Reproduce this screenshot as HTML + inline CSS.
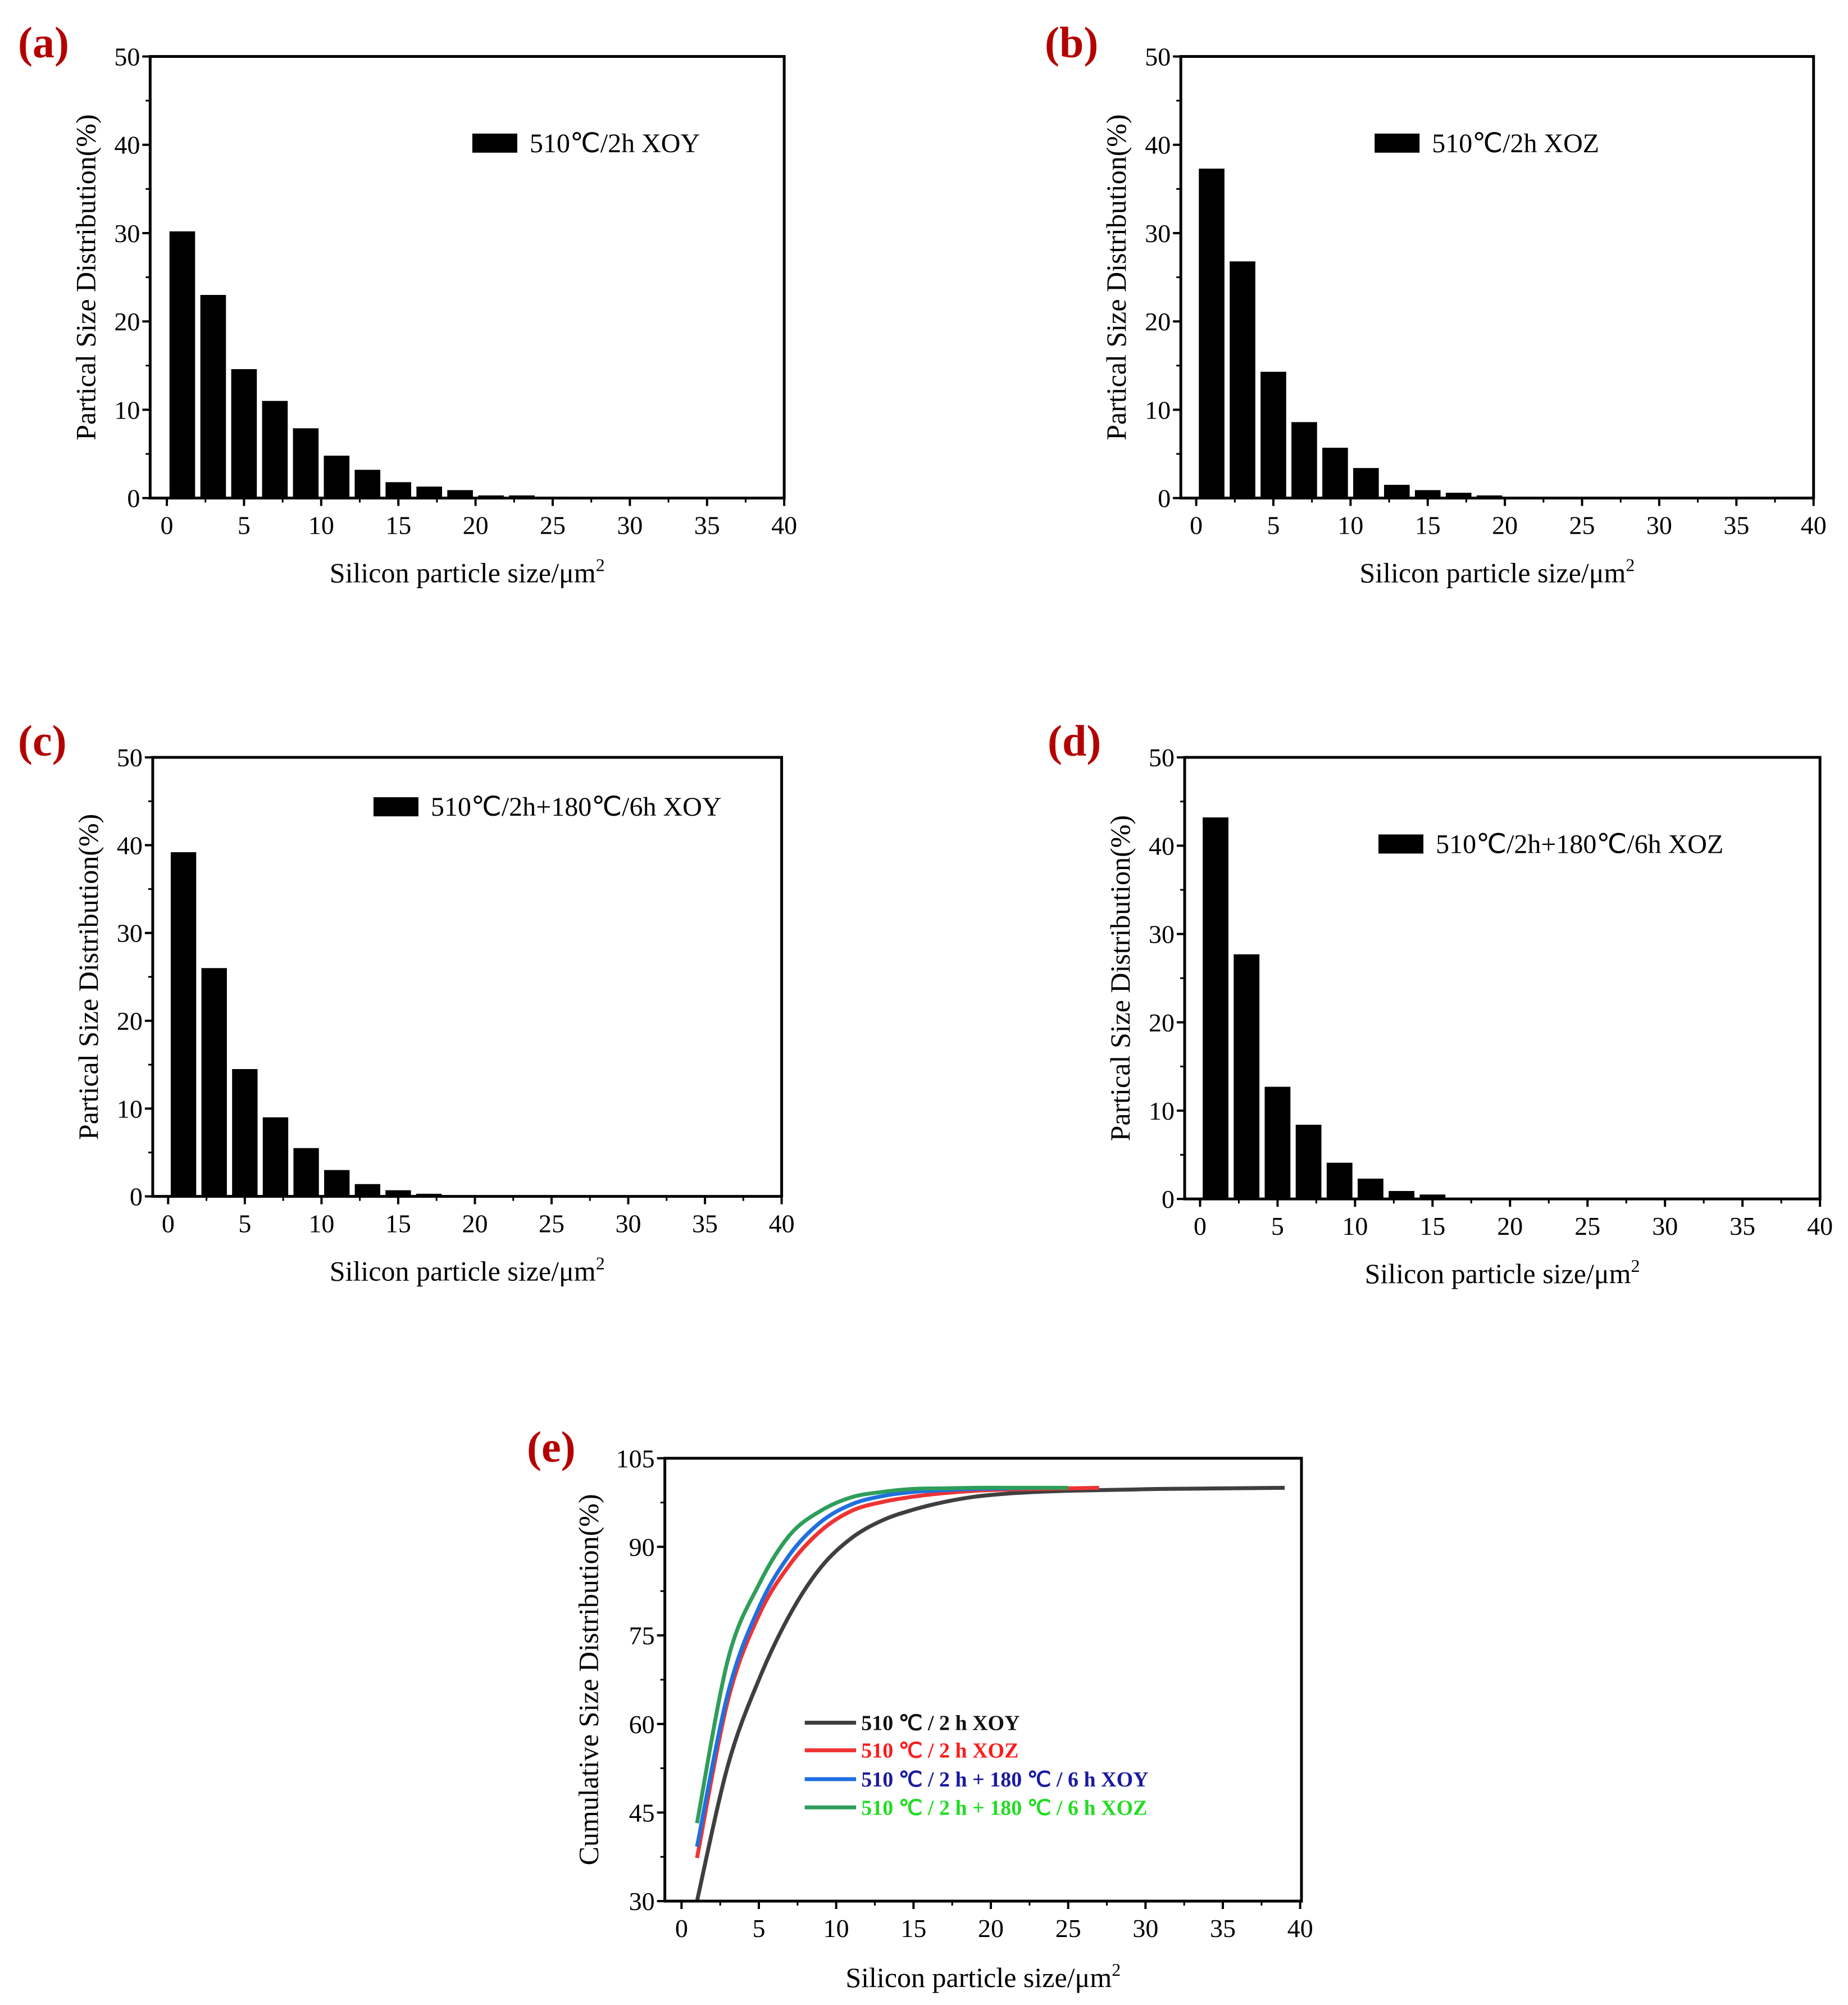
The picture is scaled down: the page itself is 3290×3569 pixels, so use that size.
<!DOCTYPE html>
<html><head><meta charset="utf-8"><style>
html,body{margin:0;padding:0;background:#fff;}
svg{display:block;font-family:"Liberation Serif",serif;}
</style></head><body>
<svg id="fig" width="3290" height="3569" viewBox="0 0 3290 3569" xmlns="http://www.w3.org/2000/svg"></svg>
<script>
// ---- data ----
const binCenters=[1,3,5,7,9,11,13,15,17,19,21,23,25,27,29,31,33,35,37,39];
const barsA=[30.2,23,14.6,11,7.9,4.8,3.2,1.8,1.3,0.9,0.3,0.3,0.15,0.1,0.05,0.03,0.02,0.02,0.01,0.01];
const barsB=[37.3,26.8,14.3,8.6,5.7,3.4,1.5,0.9,0.6,0.3,0.1,0.05,0.03,0.02,0.01,0.01,0,0,0,0];
const barsC=[39.2,26,14.5,9,5.5,3,1.4,0.7,0.3,0.1,0.05,0.03,0.02,0.01,0,0,0,0,0,0];
const barsD=[43.2,27.7,12.7,8.4,4.1,2.3,0.9,0.5,0.05,0.02,0.01,0,0,0,0,0,0,0,0,0];
const xTicks=[0,5,10,15,20,25,30,35,40];
const yTicksBar=[0,10,20,30,40,50];
const yTicksCum=[30,45,60,75,90,105];
const cumX1=[1,3,5,7,9,11,13,15,17,19,21,23,25,27,29,31,35,39];
const cumY1=[30,53,67.5,78.5,86.5,91.5,94.5,96.3,97.6,98.5,99,99.3,99.5,99.6,99.7,99.8,99.9,100];
const cumX2=[1,3,5,7,9,11,13,15,17,19,21,23,25,27];
const cumY2=[37.3,64,78.4,87,92.7,96.1,97.6,98.5,99.1,99.5,99.7,99.8,99.9,100];
const cumX3=[1,3,5,7,9,11,13,15,17,19,21,23];
const cumY3=[39.2,65.2,79.7,88.7,94.2,97.2,98.6,99.3,99.6,99.8,99.9,100];
const cumX4=[1,3,5,7,9,11,13,15,17,19,21,23,25];
const cumY4=[43.2,70.9,83.6,92,96.1,98.4,99.3,99.8,99.9,100,100,100,100];

const NS="http://www.w3.org/2000/svg";
const svg=document.getElementById('fig');
function mk(tag,attrs,parent,text){const e=document.createElementNS(NS,tag);for(const k in attrs)e.setAttribute(k,attrs[k]);if(text!==undefined)e.textContent=text;(parent||svg).appendChild(e);return e;}

function drawFrame(g,box,sx,sy,yt,yMinorStep,xlab,ylab,xlabY,ylabX){
  const f=mk('rect',{x:box.L,y:box.y0,width:box.R-box.L,height:box.y1-box.y0,fill:'none',stroke:'#000','stroke-width':5},g);
  
  xTicks.forEach(t=>{const x=sx(t);
    mk('line',{x1:x,y1:box.y1,x2:x,y2:box.y1+14,stroke:'#000','stroke-width':4},g);
    const tl=mk('text',{x:x,y:box.y1+64,'font-size':46,'text-anchor':'middle'},g,String(t));
    
  });
  for(let t=2.5;t<40;t+=5){const x=sx(t);mk('line',{x1:x,y1:box.y1,x2:x,y2:box.y1+8,stroke:'#000','stroke-width':3},g);}
  yt.forEach((t,i)=>{const y=sy(t);
    mk('line',{x1:box.L,y1:y,x2:box.L-14,y2:y,stroke:'#000','stroke-width':4},g);
    const tl=mk('text',{x:box.L-18,y:y+16,'font-size':46,'text-anchor':'end'},g,String(t));
    
    if(i<yt.length-1){const ym=sy(t+yMinorStep);mk('line',{x1:box.L,y1:ym,x2:box.L-8,y2:ym,stroke:'#000','stroke-width':3},g);}
  });
  const xl=mk('text',{x:(box.L+box.R)/2,y:xlabY,'font-size':50,'text-anchor':'middle'},g);
  
  xl.appendChild(document.createTextNode(xlab));
  mk('tspan',{'font-size':32,dy:-20},xl,'2');
  const yl=mk('text',{x:0,y:0,'font-size':50,'text-anchor':'middle',transform:`translate(${ylabX},${(box.y0+box.y1)/2}) rotate(-90)`},g,ylab);
  
}

function barPanel(name,label,lx,ly,box,bars,legText,legX,legY){
  const g=mk('g',{});
  const sx=v=>box.x0+v/40*(box.x1-box.x0);
  const sy=v=>box.y1-v/50*(box.y1-box.y0);
  const w=1.66;
  bars.forEach((v,i)=>{ if(v<=0) return;
    const r=mk('rect',{x:sx(binCenters[i]-w/2),y:sy(v),width:sx(w)-sx(0),height:Math.max(sy(0)-sy(v),1),fill:'#000'},g);
    
  });
  drawFrame(g,box,sx,sy,yTicksBar,5,'Silicon particle size/μm','Partical Size Distribution(%)',box.y1+150,box.L-98);
  const pl=mk('text',{x:lx,y:ly,'font-size':78,'font-weight':'bold',fill:'#b40000'},g,label);
  
  const lr=mk('rect',{x:legX,y:legY-17,width:80,height:34,fill:'#000'},g);
  
  const lt=mk('text',{x:legX+102,y:legY+16,'font-size':48},g,legText);
  
}
const S=2.285;
barPanel('panel-a','(a)',32,102,{L:117*S,R:611*S,x0:130*S,x1:611*S,y0:44*S,y1:388*S},barsA,'510℃/2h XOY',368*S,111.5*S);
barPanel('panel-b','(b)',1860,102,{L:920*S,R:1413*S,x0:932*S,x1:1413*S,y0:44*S,y1:388*S},barsB,'510℃/2h XOZ',1071*S,111.5*S);
barPanel('panel-c','(c)',32,1345,{L:119*S,R:609*S,x0:131*S,x1:609*S,y0:590*S,y1:932*S},barsC,'510℃/2h+180℃/6h XOY',291*S,628.5*S);
barPanel('panel-d','(d)',1865,1345,{L:923*S,R:1418*S,x0:935*S,x1:1418*S,y0:590*S,y1:934*S},barsD,'510℃/2h+180℃/6h XOZ',1074*S,657.5*S);

// panel e
(function(){
  const g=mk('g',{});
  const box={L:518*S,R:1014*S,x0:531*S,x1:1013*S,y0:1136*S,y1:1481*S};
  const sx=v=>box.x0+v/40*(box.x1-box.x0);
  const sy=v=>box.y1-(v-30)/75*(box.y1-box.y0);
  function path(xs,ys){
    const P=xs.map((x,i)=>[sx(x),sy(ys[i])]);
    let d=`M${P[0][0]},${P[0][1]}`;
    for(let i=0;i<P.length-1;i++){const p0=P[Math.max(i-1,0)],p1=P[i],p2=P[i+1],p3=P[Math.min(i+2,P.length-1)];
      d+=` C${p1[0]+(p2[0]-p0[0])/6},${p1[1]+(p2[1]-p0[1])/6} ${p2[0]-(p3[0]-p1[0])/6},${p2[1]-(p3[1]-p1[1])/6} ${p2[0]},${p2[1]}`;}
    return d;
  }
  const series=[[cumX1,cumY1,'#3f3f3f','curve-xoy'],[cumX2,cumY2,'#ee3333','curve-xoz'],[cumX3,cumY3,'#1f6fe0','curve-aged-xoy'],[cumX4,cumY4,'#2e9e5a','curve-aged-xoz']];
  series.forEach(s=>{const p=mk('path',{d:path(s[0],s[1]),fill:'none',stroke:s[2],'stroke-width':7},g);
    });
  drawFrame(g,box,sx,sy,yTicksCum,7.5,'Silicon particle size/μm','Cumulative Size Distribution(%)',1548*S,458*S+18);
  const pl=mk('text',{x:938,y:2602,'font-size':78,'font-weight':'bold',fill:'#b40000'},g,'(e)');
  
  const leg=[['510 ℃ / 2 h XOY','#3f3f3f','#111'],['510 ℃ / 2 h XOZ','#ee3333','#ff1a1a'],['510 ℃ / 2 h + 180 ℃ / 6 h XOY','#1f6fe0','#1a1aa0'],['510 ℃ / 2 h + 180 ℃ / 6 h XOZ','#2e9e5a','#22dd22']];
  const ly=[1342,1363.5,1386,1408];
  leg.forEach((l,i)=>{const y=ly[i]*S;
    const ln=mk('line',{x1:627*S,y1:y,x2:667*S,y2:y,stroke:l[1],'stroke-width':7},g);
    
    const t=mk('text',{x:671*S,y:y+13,'font-size':38,'font-weight':'bold',fill:l[2]},g,l[0]);
    
  });
})();
</script>
</body></html>
